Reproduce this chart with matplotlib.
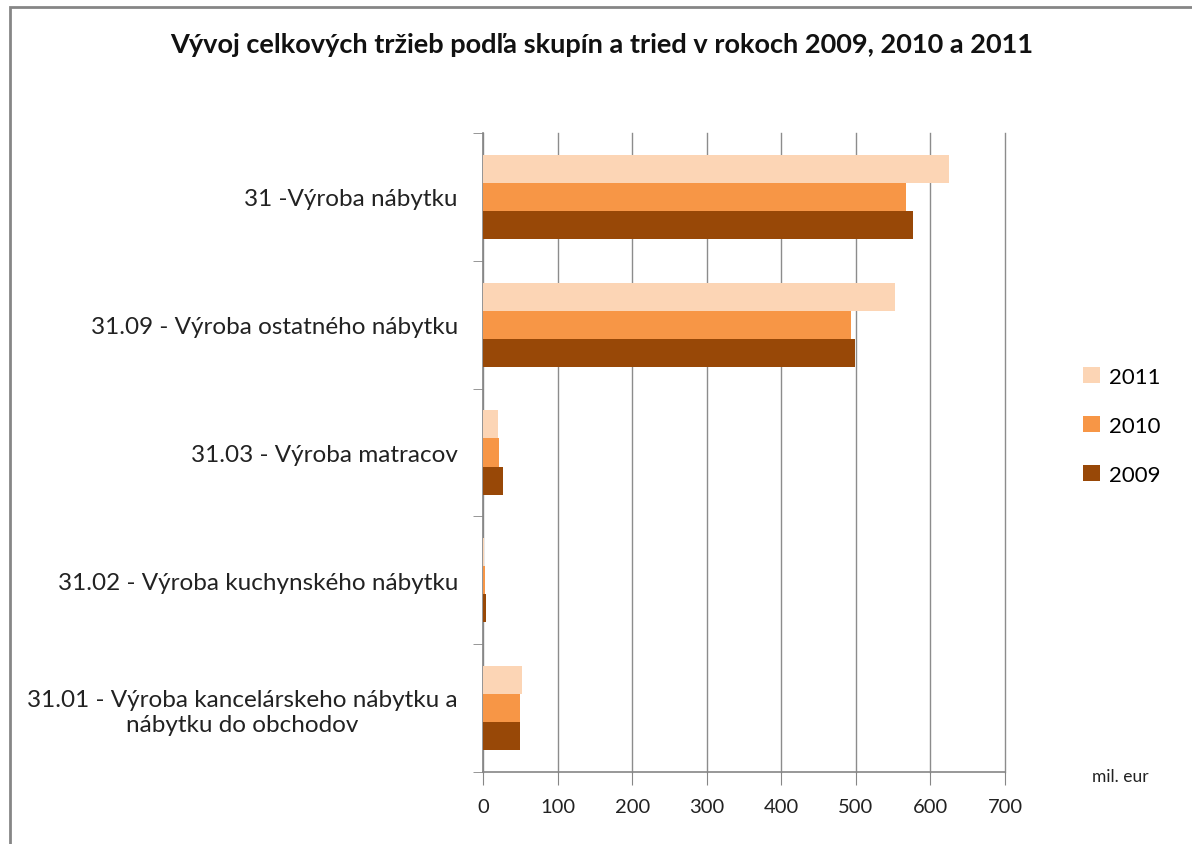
import numpy as np
import matplotlib.pyplot as plt
from matplotlib.patches import Rectangle, Patch

plt.rcParams['font.family'] = ['Lato', 'DejaVu Sans']

# Dáta (mil. eur)
kategorie = ['31.01 - Výroba kancelárskeho nábytku a\nnábytku do obchodov',
             '31.02 - Výroba kuchynského nábytku',
             '31.03 - Výroba matracov',
             '31.09 - Výroba ostatného nábytku',
             '31 -Výroba nábytku']
roky = ['2011', '2010', '2009']
hodnoty_2011 = [52, 1.5, 20, 552, 625]
hodnoty_2010 = [50, 2.5, 21, 493, 567]
hodnoty_2009 = [50, 4, 27, 499, 577]
farby = ['#FCD5B5', '#F79646', '#984807']
x_ticky = [0, 100, 200, 300, 400, 500, 600, 700]

fig = plt.figure(figsize=(11.92, 8.45), dpi=100)
ax = fig.add_axes([0.4052, 0.0852, 0.4379, 0.7562])

y = np.arange(len(kategorie))
h = 0.22
ax.barh(y + h, hodnoty_2011, height=h, color=farby[0], zorder=3)
ax.barh(y, hodnoty_2010, height=h, color=farby[1], zorder=3)
ax.barh(y - h, hodnoty_2009, height=h, color=farby[2], zorder=3)

ax.set_xlim(0, 700)
ax.set_ylim(-0.5, len(kategorie) - 0.5)
ax.set_xticks(x_ticky)
ax.set_xticklabels([str(t) for t in x_ticky], fontsize=14.5, color='#222222')
ax.set_yticks(y)
ax.set_yticklabels(kategorie, fontsize=17.5, color='#222222', multialignment='center',
                   linespacing=1.2)
ax.set_yticks(np.arange(-0.5, len(kategorie), 1), minor=True)
ax.tick_params(axis='y', which='major', length=0, pad=18)
ax.tick_params(axis='y', which='minor', length=7, color='#868686', direction='out')
ax.tick_params(axis='x', length=9, color='#868686', pad=10)

ax.grid(axis='x', color='#8c8c8c', linewidth=1, zorder=0)
for gl in ax.get_xgridlines():
    gl.set_clip_on(False)
for s in ['top', 'right']:
    ax.spines[s].set_visible(False)
for s in ['left', 'bottom']:
    ax.spines[s].set_color('#868686')
    ax.spines[s].set_linewidth(1.2)

fig.text(0.505, 0.947, 'Vývoj celkových tržieb podľa skupín a tried v rokoch 2009, 2010 a 2011',
         ha='center', va='center', fontsize=19.5, fontweight='bold', color='#111111')
fig.text(0.940, 0.081, 'mil. eur', ha='center', va='center', fontsize=12.5, color='#222222')

handles = [Patch(facecolor=c, edgecolor='none') for c in farby]
fig.legend(handles, roky, loc='center left', bbox_to_anchor=(0.892, 0.495),
           frameon=False, fontsize=16, handlelength=0.75, handleheight=0.75,
           handletextpad=0.4, labelspacing=1.3)

# rámček grafu
fig.patches.append(Rectangle((10 / 1192, -0.1), 1.2, 1.1 - 8 / 845, transform=fig.transFigure,
                             fill=False, edgecolor='#868686', linewidth=2))

fig.savefig('out.png', dpi=100)
